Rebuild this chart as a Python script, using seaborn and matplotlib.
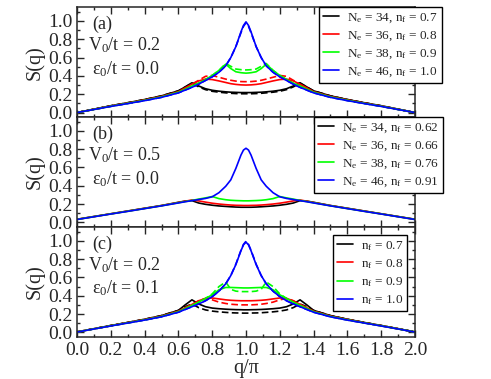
import matplotlib
matplotlib.use("Agg")
import matplotlib.pyplot as plt
import seaborn as sns
from matplotlib.ticker import MultipleLocator

# --- q grid (half of the zone, S(q) is symmetric about q = pi) ---
Q_HALF = [0.0, 0.1, 0.2, 0.3, 0.4, 0.5, 0.6, 0.64, 0.68, 0.72, 0.76, 0.8,
          0.84, 0.88, 0.91, 0.94, 0.97, 0.985, 1.0]

COLORS = ["#000000", "#ff0000", "#00ff00", "#0000ff"]

# --- panel (a): V0/t = 0.2, eps0/t = 0.0 ---
A_LABELS = ["N$_e$ = 34, n$_f$ = 0.7", "N$_e$ = 36, n$_f$ = 0.8",
            "N$_e$ = 38, n$_f$ = 0.9", "N$_e$ = 46, n$_f$ = 1.0"]
A_SOLID = [
    [0.0, 0.037, 0.074, 0.107, 0.142, 0.182, 0.237, 0.28, 0.325, 0.29, 0.26, 0.243, 0.233, 0.226, 0.222, 0.22, 0.218, 0.218, 0.218],
    [0.0, 0.035, 0.071, 0.104, 0.138, 0.176, 0.228, 0.27, 0.31, 0.345, 0.365, 0.36, 0.345, 0.328, 0.315, 0.307, 0.302, 0.301, 0.30],
    [0.0, 0.034, 0.069, 0.101, 0.134, 0.171, 0.222, 0.255, 0.29, 0.32, 0.36, 0.405, 0.46, 0.528, 0.48, 0.445, 0.435, 0.432, 0.43],
    [0.0, 0.033, 0.067, 0.098, 0.13, 0.166, 0.215, 0.245, 0.275, 0.31, 0.35, 0.39, 0.44, 0.51, 0.6, 0.72, 0.88, 0.95, 0.99],
]
A_DASHED = [
    [0.0, 0.037, 0.074, 0.107, 0.142, 0.182, 0.237, 0.278, 0.32, 0.28, 0.25, 0.232, 0.222, 0.215, 0.21, 0.207, 0.205, 0.205, 0.205],
    [0.0, 0.035, 0.071, 0.104, 0.138, 0.176, 0.228, 0.27, 0.31, 0.352, 0.395, 0.405, 0.385, 0.365, 0.352, 0.343, 0.338, 0.337, 0.337],
    [0.0, 0.034, 0.069, 0.101, 0.134, 0.171, 0.222, 0.255, 0.29, 0.32, 0.36, 0.405, 0.46, 0.535, 0.505, 0.475, 0.468, 0.466, 0.465],
    [0.0, 0.033, 0.067, 0.098, 0.13, 0.166, 0.215, 0.245, 0.275, 0.31, 0.35, 0.39, 0.44, 0.51, 0.6, 0.72, 0.87, 0.94, 0.98],
]

# --- panel (b): V0/t = 0.5, eps0/t = 0.0 ---
B_LABELS = ["N$_e$ = 34, n$_f$ = 0.62", "N$_e$ = 36, n$_f$ = 0.66",
            "N$_e$ = 38, n$_f$ = 0.76", "N$_e$ = 46, n$_f$ = 0.91"]
B_SOLID = [
    [0.035, 0.065, 0.095, 0.125, 0.155, 0.185, 0.22, 0.233, 0.238, 0.212, 0.198, 0.188, 0.18, 0.175, 0.171, 0.168, 0.166, 0.166, 0.166],
    [0.034, 0.064, 0.094, 0.124, 0.154, 0.184, 0.218, 0.232, 0.245, 0.235, 0.222, 0.21, 0.201, 0.194, 0.19, 0.187, 0.186, 0.185, 0.185],
    [0.033, 0.063, 0.093, 0.122, 0.152, 0.182, 0.215, 0.228, 0.24, 0.255, 0.268, 0.283, 0.26, 0.248, 0.242, 0.239, 0.237, 0.236, 0.236],
    [0.032, 0.062, 0.092, 0.121, 0.151, 0.181, 0.213, 0.226, 0.238, 0.25, 0.262, 0.28, 0.325, 0.395, 0.465, 0.59, 0.735, 0.79, 0.81],
]

# --- panel (c): V0/t = 0.2, eps0/t = 0.1 ---
C_LABELS = ["n$_f$ = 0.7", "n$_f$ = 0.8", "n$_f$ = 0.9", "n$_f$ = 1.0"]
C_SOLID = [
    [0.005, 0.04, 0.075, 0.108, 0.143, 0.183, 0.24, 0.3, 0.355, 0.31, 0.28, 0.265, 0.258, 0.253, 0.25, 0.248, 0.247, 0.246, 0.246],
    [0.004, 0.039, 0.073, 0.106, 0.14, 0.178, 0.232, 0.268, 0.305, 0.345, 0.37, 0.375, 0.365, 0.355, 0.35, 0.347, 0.345, 0.345, 0.345],
    [0.004, 0.038, 0.072, 0.104, 0.137, 0.174, 0.226, 0.26, 0.295, 0.33, 0.37, 0.41, 0.465, 0.49, 0.49, 0.488, 0.486, 0.485, 0.485],
    [0.003, 0.037, 0.07, 0.102, 0.134, 0.17, 0.22, 0.25, 0.28, 0.31, 0.345, 0.39, 0.45, 0.53, 0.62, 0.74, 0.89, 0.955, 0.985],
]
C_DASHED = [
    [0.005, 0.04, 0.075, 0.108, 0.143, 0.183, 0.24, 0.28, 0.31, 0.27, 0.245, 0.232, 0.224, 0.218, 0.214, 0.212, 0.211, 0.21, 0.21],
    [0.004, 0.039, 0.073, 0.106, 0.14, 0.178, 0.232, 0.268, 0.305, 0.345, 0.37, 0.355, 0.33, 0.315, 0.307, 0.303, 0.30, 0.30, 0.30],
    [0.004, 0.038, 0.072, 0.104, 0.137, 0.174, 0.226, 0.26, 0.295, 0.33, 0.37, 0.42, 0.5, 0.55, 0.47, 0.45, 0.445, 0.445, 0.445],
    [0.003, 0.037, 0.07, 0.102, 0.134, 0.17, 0.22, 0.25, 0.28, 0.31, 0.345, 0.39, 0.45, 0.53, 0.62, 0.745, 0.895, 0.96, 0.995],
]

PANELS = [
    ("(a)", "V$_0$/t = 0.2", "\u03b5$_0$/t = 0.0", A_LABELS, A_SOLID, A_DASHED, (0.716, 1.0)),
    ("(b)", "V$_0$/t = 0.5", "\u03b5$_0$/t = 0.0", B_LABELS, B_SOLID, None, (0.701, 1.0)),
    ("(c)", "V$_0$/t = 0.2", "\u03b5$_0$/t = 0.1", C_LABELS, C_SOLID, C_DASHED, (0.757, 0.93)),
]


def mirror(vals):
    """Completa la curva de 0 a 2 usando la simetria S(q) = S(2 - q)."""
    return list(vals) + list(reversed(vals[:-1]))


Q_FULL = Q_HALF + [round(2.0 - q, 3) for q in reversed(Q_HALF[:-1])]

sns.set_theme(style="ticks")
plt.rcParams["font.family"] = ["Liberation Serif", "DejaVu Serif"]
plt.rcParams["mathtext.default"] = "regular"
plt.rcParams["axes.linewidth"] = 1.1

fig, axes = plt.subplots(3, 1, figsize=(4.91, 3.79), dpi=100, sharex=True)
fig.subplots_adjust(left=0.157, right=0.845, top=0.981, bottom=0.111, hspace=0)

for ax, (tag, vtxt, etxt, labels, solid, dashed, anchor) in zip(axes, PANELS):
    handles = []
    if dashed is not None:
        for col, s in zip(COLORS, dashed):
            sns.lineplot(x=Q_FULL, y=mirror(s), color=col, lw=1.2,
                         linestyle=(0, (4, 2)), sort=False, ax=ax)
    for col, s, lab in zip(COLORS, solid, labels):
        sns.lineplot(x=Q_FULL, y=mirror(s), color=col, lw=1.2, sort=False, ax=ax)
        handles.append(ax.lines[-1])
        handles[-1].set_label(lab)

    ax.set_xlim(0, 2)
    ax.set_ylim(-0.05, 1.15)
    ax.xaxis.set_major_locator(MultipleLocator(0.2))
    ax.xaxis.set_minor_locator(MultipleLocator(0.1))
    ax.yaxis.set_major_locator(MultipleLocator(0.2))
    ax.yaxis.set_minor_locator(MultipleLocator(0.1))
    ax.tick_params(which="both", direction="in", top=True, right=True,
                   labelsize=14, width=1.0)
    ax.tick_params(which="major", length=5)
    ax.tick_params(which="minor", length=2.5)
    ax.set_ylabel("S(q)", fontsize=14.5, labelpad=2)
    ax.set_xlabel("")

    ax.text(0.044, 0.84, tag, transform=ax.transAxes, fontsize=13, va="center")
    ax.text(0.033, 0.655, vtxt, transform=ax.transAxes, fontsize=13, va="center")
    ax.text(0.044, 0.44, etxt, transform=ax.transAxes, fontsize=13, va="center")

    leg = ax.legend(handles=handles, loc="upper left", bbox_to_anchor=anchor,
                    fontsize=9.5, frameon=True, fancybox=False, framealpha=1,
                    edgecolor="black", handlelength=1.2, handletextpad=0.6,
                    labelspacing=0.33, borderpad=0.32, borderaxespad=0)
    leg.get_frame().set_linewidth(1.0)
    leg.set_zorder(5)

axes[-1].set_xlabel("q/\u03c0", fontsize=14.5, labelpad=0)

plt.savefig("out.png", dpi=100)
plt.close()
